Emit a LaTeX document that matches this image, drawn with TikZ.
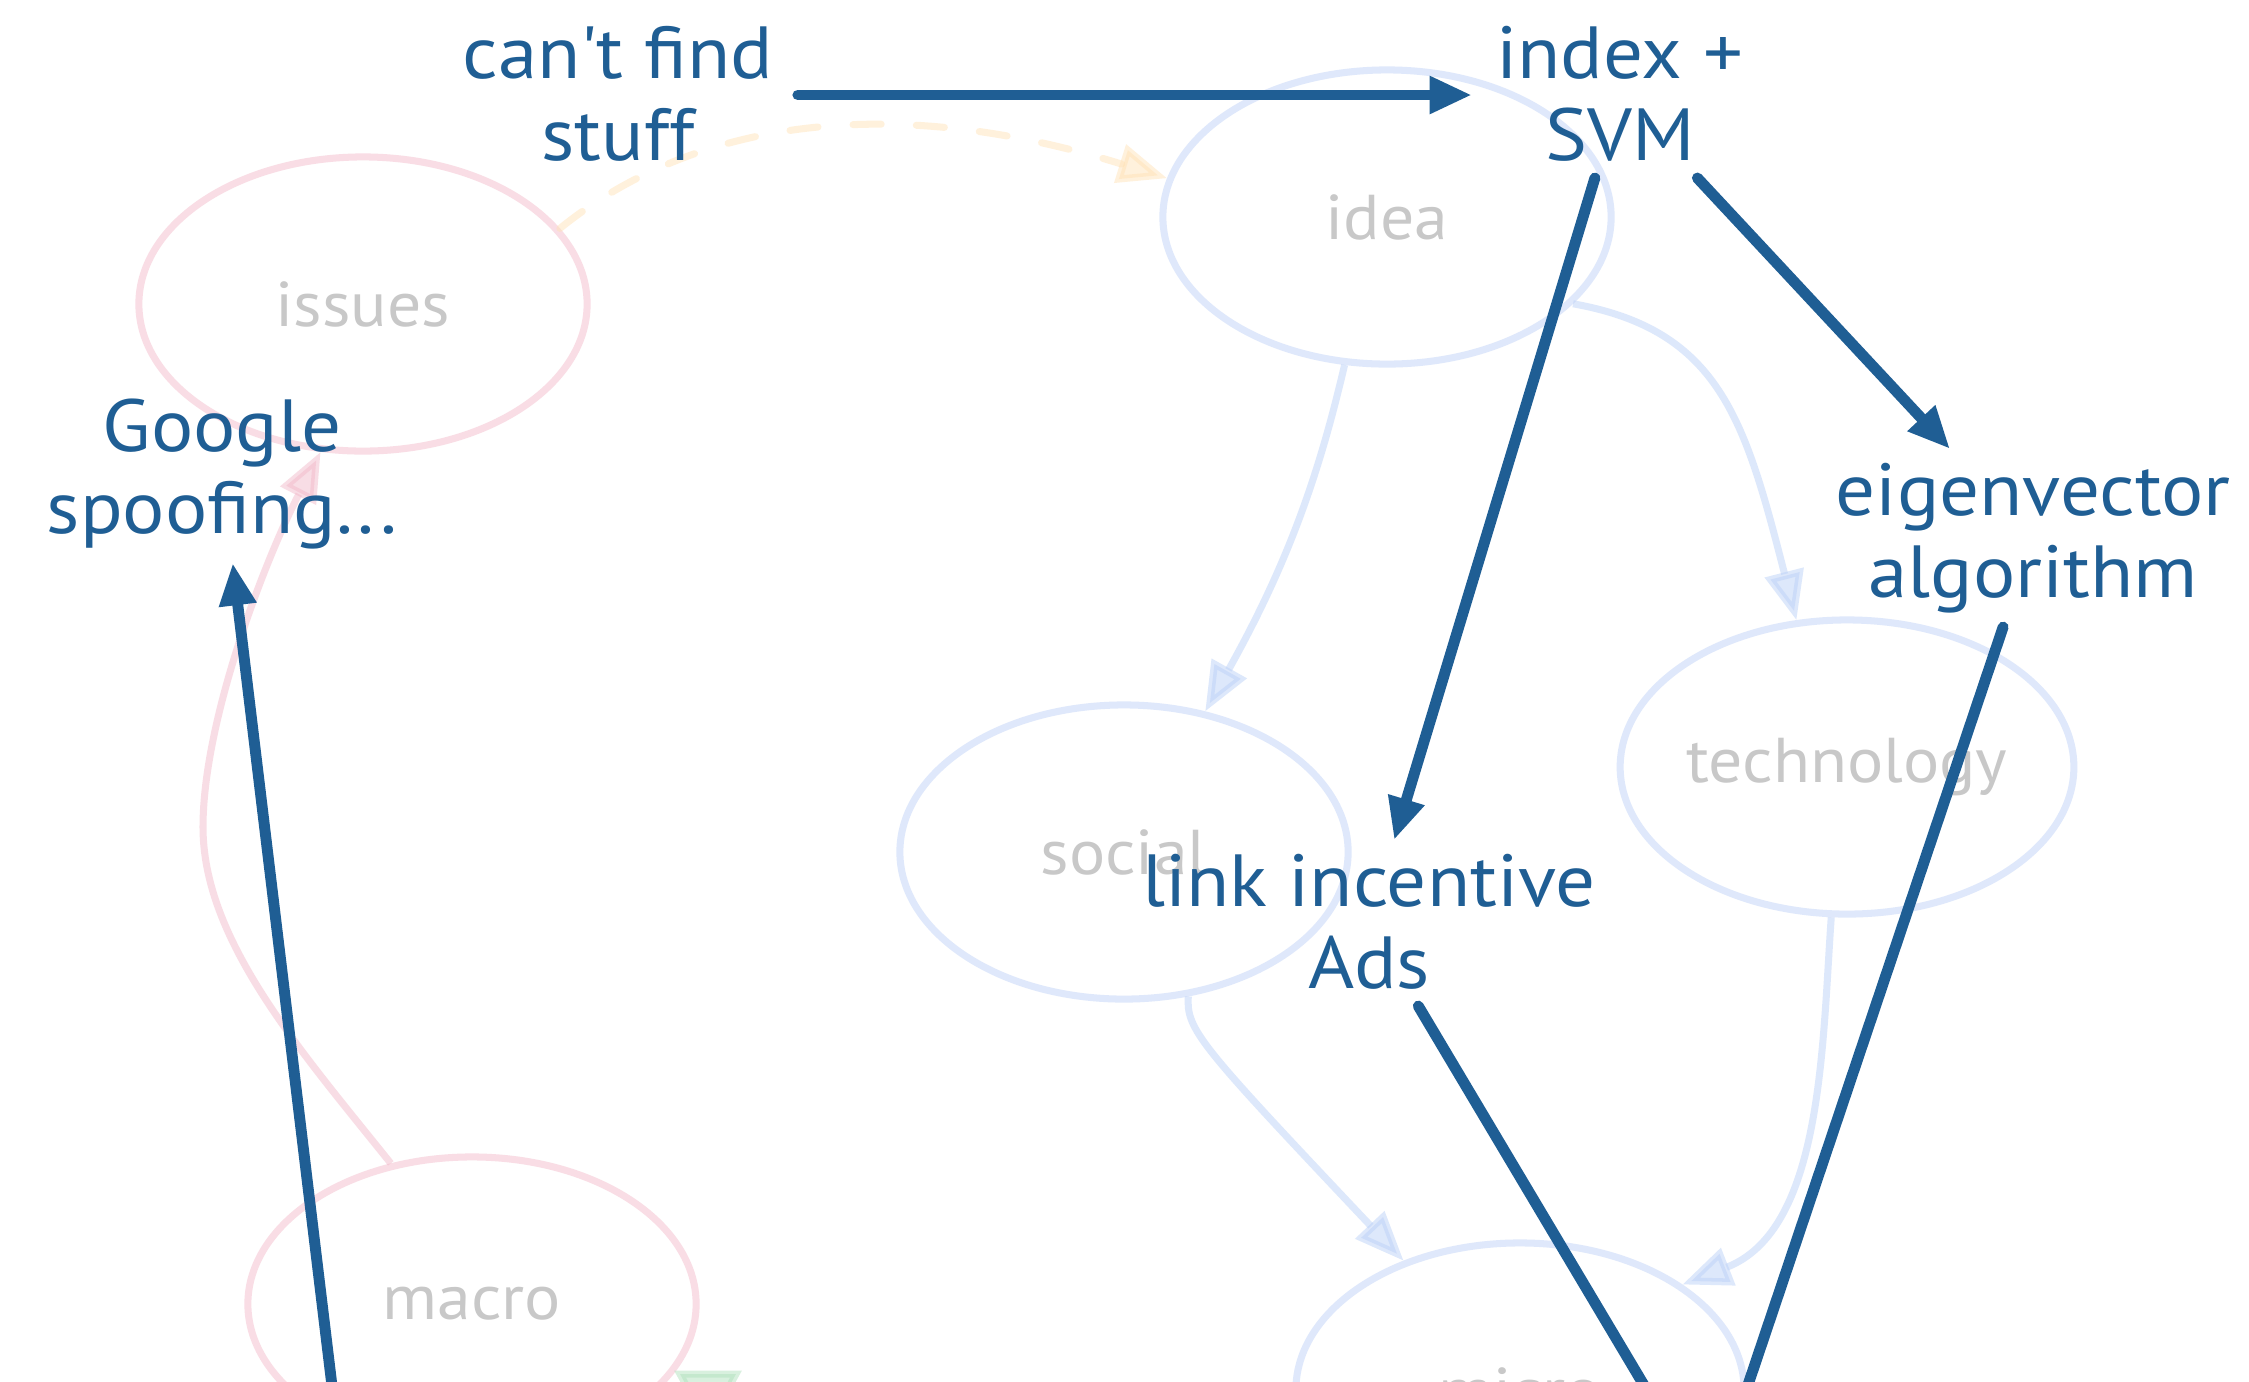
\documentclass[tikz,border=0pt]{standalone}
\usepackage{fontspec}
\setmainfont[FakeStretch=1.07]{PT Sans}
\usetikzlibrary{arrows.meta,shapes.geometric}
\definecolor{dblue}{RGB}{31,94,148}
\definecolor{lgray}{RGB}{200,200,200}
\definecolor{pinkl}{RGB}{249,221,229}
\definecolor{bluel}{RGB}{223,232,251}
\definecolor{blueT}{RGB}{186,207,247}
\definecolor{pinkT}{RGB}{242,184,201}
\definecolor{orT}{RGB}{255,226,182}
\definecolor{grT}{RGB}{175,225,188}
\newcommand\myTopStrut{\rule{0pt}{15pt}}
\newcommand\myBotStrut{\rule[-1pt]{0pt}{1pt}}
\begin{document}
\begin{tikzpicture}[x=0.01cm,y=-0.01cm,
  topic/.style={ellipse, draw, line width=2pt, minimum width=4.48cm, minimum height=2.94cm,
    inner sep=0pt, text=lgray, font=\fontsize{18}{20}\selectfont},
  pinktopic/.style={topic, draw=pinkl},
  bluetopic/.style={topic, draw=bluel},
  thought/.style={text=dblue, align=center, font=\fontsize{21}{23.2}\selectfont,
    inner xsep=3pt, inner ysep=0pt, outer sep=4pt},
  strong/.style={draw=dblue, line width=3.1pt, line cap=round,
    -{Triangle[length=12pt,width=10pt]}},
  faint/.style={line width=2pt, opacity=0.48, line join=miter,
    -{Triangle[length=14pt,width=11pt,fill=#1]}, draw=#1},
  faintdash/.style={faint=#1, dash pattern=on 8pt off 10pt, line cap=round},
]
\useasboundingbox (0,0) rectangle (2249,1381);
\fill[white] (0,0) rectangle (2249,1381);
\clip (0,0) rectangle (2249,1381);

% topic ellipses
\node[pinktopic] (issues) at (363,304) {issues};
\node[bluetopic] (idea) at (1387,217) {idea};
\node[bluetopic] (social) at (1124,852) {social};
\node[bluetopic] (technology) at (1847,767) {technology};
\node[pinktopic] (macro) at (472,1304) {macro};
\node[bluetopic] (micro) at (1520,1390) {micro};

% faint connectors
\draw[faintdash=orT] (issues.21) .. controls (700,115) and (900,95) .. (idea.170);
\draw[faint=blueT] (idea.-106) .. controls (1320,470) and (1290,560) .. (social.60);
\draw[faint=blueT] (idea.-25) .. controls (1720,330) and (1745,420) .. (technology.109);
\draw[faint=blueT] (social.-66) .. controls (1186,1030) and (1200,1045) .. (micro.132);
\draw[faint=blueT] (technology.-96) .. controls (1822,1050) and (1822,1230) .. (micro.33);
\draw[faint=pinkT] (macro.120) .. controls (300,1050) and (203,940) .. (203,827)
  .. controls (203,720) and (265,560) .. (issues.-106);
\filldraw[fill=grT, draw=grT, opacity=0.48, line width=2pt, line join=miter]
  (680,1374) -- (736,1374) -- (708,1425) -- cycle;

% thought nodes
\node[thought] (cant) at (618,95) {\myTopStrut can\textquotesingle t find\\stuff\myBotStrut};
\node[thought] (idx) at (1620,95) {\myTopStrut index +\\SVM\myBotStrut};
\node[thought] (eig) at (2033,538) {\myTopStrut eigenvector\\algorithm\myBotStrut};
\node[thought] (google) at (222,474) {\myTopStrut Google\\spoofing...\myBotStrut};
\node[thought] (link) at (1369,923) {\myTopStrut link incentive\\Ads\myBotStrut};

\coordinate (belowA) at (1689,1560);
\coordinate (belowB) at (1748,1560);
\coordinate (belowC) at (353,1560);

% strong connectors
\draw[strong] (cant) -- (idx);
\draw[strong] (idx) -- (link);
\draw[strong] (idx) -- (eig);
\draw[strong, -] (eig) -- (belowA);
\draw[strong, -] (link) -- (belowB);
\draw[strong] (belowC) -- (google);
\end{tikzpicture}
\end{document}
